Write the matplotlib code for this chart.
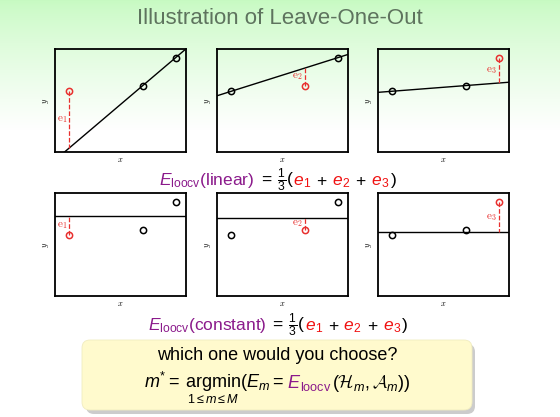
import numpy as np
import matplotlib
matplotlib.use("Agg")
import matplotlib.pyplot as plt
from matplotlib.patches import FancyBboxPatch
from matplotlib.offsetbox import TextArea, HPacker, AnchoredOffsetbox

plt.rcParams["font.family"] = ["Liberation Sans", "DejaVu Sans"]
plt.rcParams["mathtext.fontset"] = "custom"
plt.rcParams["mathtext.rm"] = "Liberation Sans"
plt.rcParams["mathtext.it"] = "Liberation Sans:italic"
plt.rcParams["mathtext.sf"] = "Liberation Sans"
plt.rcParams["mathtext.bf"] = "Liberation Sans:bold"
plt.rcParams["mathtext.cal"] = "cmsy10"

# three data points, shared by every panel
xs = [0.11, 0.67, 0.92]
ys = [0.59, 0.645, 0.915]
models = ["linear", "constant"]

PURPLE = "#8b1a8b"
RED = "#f01010"
PT_RED = "#e8302f"
W, H = 560, 417

fig = plt.figure(figsize=(W / 100, H / 100), dpi=100)

# canvas in pixel coordinates for background, box and formulas
bg = fig.add_axes([0, 0, 1, 1], zorder=-1)
bg.set_xlim(0, W)
bg.set_ylim(H, 0)
bg.axis("off")
rows = np.arange(H)
s = np.clip(rows / 130.0, 0, 1)[:, None] ** 0.8
top = np.array([0.78, 0.98, 0.76])
grad = top * (1 - s) + np.ones(3) * s
bg.imshow(grad[:, None, :], extent=[0, W, H, 0], aspect="auto", zorder=0)

bg.text(W / 2, 18, "Illustration of Leave-One-Out", ha="center", va="center",
        fontsize=16, color="#5e735e")

panel_x = [55, 217, 378]
panel_y = [49, 193]
pw, ph = 131, 103


def fit(model, xx, yy):
    deg = 1 if model == "linear" else 0
    return np.poly1d(np.polyfit(xx, yy, deg))


for r, model in enumerate(models):
    for k in range(3):
        ax = fig.add_axes([panel_x[k] / W, 1 - (panel_y[r] + ph) / H, pw / W, ph / H])
        ax.set_facecolor("none")
        keep = [i for i in range(3) if i != k]
        p = fit(model, [xs[i] for i in keep], [ys[i] for i in keep])
        gx = np.array([0, 1])
        ax.plot(gx, p(gx), color="black", lw=1.0)
        for i in keep:
            ax.plot(xs[i], ys[i], "o", ms=4.5, mfc="none", mec="black", mew=1.1)
        ax.plot(xs[k], ys[k], "o", ms=4.5, mfc="none", mec=PT_RED, mew=1.1)
        yl = p(xs[k])
        ax.plot([xs[k], xs[k]], [ys[k], yl], color=PT_RED, ls="--", lw=0.9)
        ax.text(xs[k] - 0.015, (ys[k] + yl) / 2, r"$\mathrm{e}_{%d}$" % (k + 1),
                ha="right", va="center", color=PT_RED, fontsize=8, rotation=0,
                math_fontfamily="cm")
        ax.set_xlim(0, 1)
        ax.set_ylim(0, 1)
        ax.set_xticks([])
        ax.set_yticks([])
        for sp in ax.spines.values():
            sp.set_linewidth(1.3)
        ax.set_xlabel("$x$", fontsize=6, labelpad=3, math_fontfamily="cm")
        ax.set_ylabel("$y$", fontsize=6, labelpad=3, math_fontfamily="cm")


def formula(parts, x, y, size):
    areas = []
    for txt, col in parts:
        areas.append(TextArea(txt, textprops=dict(color=col, fontsize=size)))
    pack = HPacker(children=areas, align="baseline", pad=0, sep=0)
    box = AnchoredOffsetbox(loc="center", child=pack, pad=0, borderpad=0,
                            frameon=False, bbox_to_anchor=(x, y),
                            bbox_transform=bg.transData)
    bg.add_artist(box)


def loocv_line(model, y):
    # leading spaces only: mathtext drops trailing ones
    parts = [(r"$E_{\mathrm{loocv}}$(" + model + ")", PURPLE),
             (r"$\:=\:\frac{1}{3}($", "black")]
    for i in range(3):
        parts.append(((r"$\ e_{%d}$" if i else r"$\!e_{%d}$") % (i + 1), RED))
        parts.append((r"$\,+$" if i < 2 else r"$)$", "black"))
    formula(parts, 278, y, 12.5)


loocv_line(models[0], 180)
loocv_line(models[1], 325)

# question box with shadow
shadow = FancyBboxPatch((86, 344), 389, 70, boxstyle="round,pad=0,rounding_size=8",
                        fc="#9a9a9a", ec="none", alpha=0.5, zorder=1)
bg.add_patch(shadow)
box = FancyBboxPatch((82, 340), 390, 70, boxstyle="round,pad=0,rounding_size=8",
                     fc="#fffacd", ec="#f0ecc0", lw=0.6, zorder=2)
bg.add_patch(box)

bg.text(277, 356, "which one would you choose?", ha="center", va="center",
        fontsize=13, zorder=3)
formula([(r"$m^{*}=\:\underset{1\leq m\leq M}{\mathrm{argmin}}(E_{m}=$", "black"),
         (r"$\ E_{\mathrm{loocv}}$", PURPLE),
         (r"$(\mathcal{H}_{m},\mathcal{A}_{m}))$", "black")],
        277, 388, 13)

fig.savefig("out.png", dpi=100)
